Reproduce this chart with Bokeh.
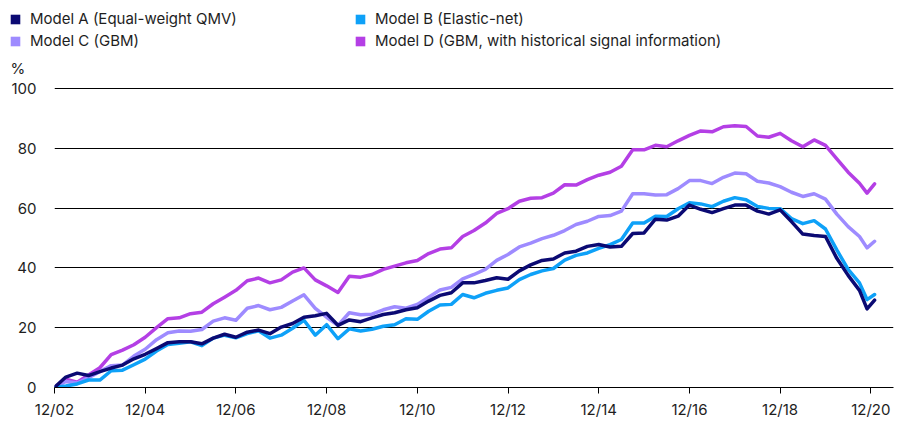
from bokeh.plotting import figure
from bokeh.layouts import column, row
from bokeh.models import Legend, LegendItem, FixedTicker, Label, Range1d, ColumnDataSource
from bokeh.embed import file_html
from bokeh.resources import INLINE

# ---- data (quarterly readings, cumulative %, from Dec 2002) ----
dates = (["2002-12"]
         + [f"{y}-{m:02d}" for y in range(2003, 2021) for m in (3, 6, 9, 12)][:-1]
         + ["2020-11", "2021-01"])

model_a = [0, 3.5, 4.8, 4, 5.3, 6.5, 7.5, 9.6, 11.1, 13, 15, 15.3, 15.3, 14.6, 16.5, 17.8,
           16.8, 18.5, 19.2, 18, 20.2, 21.4, 23.5, 24, 24.8, 20.8, 22.6, 22, 23.3, 24.4, 25, 26,
           26.7, 28.9, 30.8, 31.7, 35, 35, 35.8, 36.7, 36.2, 39, 41, 42.5, 43, 45, 45.6, 47.2,
           47.8, 47, 47.2, 51.5, 51.7, 56.3, 56, 57.3, 61, 59.6, 58.5, 59.8, 61, 61, 59, 58,
           59.4, 55.5, 51.3, 50.8, 50.5, 43.2, 37.5, 32.5, 26.3, 29.2]
model_b = [0, 0.5, 1.2, 2.5, 2.5, 5.6, 5.8, 7.6, 9.5, 12.2, 14.4, 14.8, 15.3, 14, 16.5, 17.5,
           16.6, 18, 19, 16.5, 17.5, 19.8, 22.5, 17.5, 21, 16.3, 19.6, 18.9, 19.5, 20.5, 21, 23,
           22.8, 25.5, 27.6, 27.8, 31.1, 30, 31.5, 32.5, 33.3, 36.1, 37.8, 39, 39.8, 42.6, 44.2, 45,
           46.5, 47.8, 49.5, 55, 55, 57.3, 57.2, 59.8, 61.8, 61.4, 60.5, 62.3, 63.5, 62.8, 60.5, 59.9,
           59.8, 56.5, 54.8, 55.8, 53, 46, 39.5, 35, 29.4, 31.1]
model_c = [0, 2, 1.5, 3.3, 5.3, 7.3, 7.5, 10.5, 12.8, 16, 18.3, 18.9, 18.8, 19.4, 22.2, 23.3,
           22.5, 26.5, 27.4, 26, 26.8, 28.9, 31, 26.5, 23.5, 20.8, 25, 24.3, 24.5, 26, 27, 26.5,
           27.8, 30.2, 32.6, 33.5, 36.3, 37.8, 39.5, 42.5, 44.5, 47, 48.3, 49.8, 50.9, 52.5, 54.5, 55.6,
           57.2, 57.5, 59, 64.8, 64.8, 64.4, 64.5, 66.5, 69.2, 69.2, 68.2, 70.3, 71.7, 71.5, 69, 68.4,
           67.2, 65.3, 63.9, 64.8, 63, 58, 53.8, 50.5, 46.7, 48.9]
model_d = [0, 2.8, 1.8, 4.2, 6.6, 11, 12.5, 14.3, 16.8, 20, 23, 23.3, 24.7, 25.2, 28, 30.2,
           32.5, 35.7, 36.6, 35, 36, 38.6, 40, 36, 34, 31.8, 37.2, 36.9, 37.8, 39.5, 40.6, 41.7,
           42.5, 44.8, 46.3, 46.7, 50.5, 52.5, 55, 58.2, 59.8, 62.3, 63.3, 63.5, 65, 67.8, 67.7, 69.5,
           71, 72, 74, 79.5, 79.5, 81, 80.5, 82.5, 84.3, 85.8, 85.5, 87.2, 87.5, 87.3, 84.1, 83.7,
           85, 82.5, 80.5, 82.8, 81, 76.5, 72, 68.3, 65, 68.1]

names = ["Model A (Equal-weight QMV)", "Model B (Elastic-net)",
         "Model C (GBM)", "Model D (GBM, with historical signal information)"]
colors = ["#0b0a73", "#0ea1f8", "#9e8bff", "#b43fe5"]

tick_labels = ["12/02", "12/04", "12/06", "12/08", "12/10",
               "12/12", "12/14", "12/16", "12/18", "12/20"]
y_ticks = [0, 20, 40, 60, 80, 100]
unit_label = "%"

# month index since Dec 2002
x = [(int(d[:4]) - 2002) * 12 + int(d[5:7]) - 12 for d in dates]
x_ticks = [24 * i for i in range(len(tick_labels))]

FONT = "Inter"
TXT = "#1e1e1e"
FS = "15px"

# ---------------- header (legend + unit) ----------------
HEAD_H = 80
head = figure(width=902, height=HEAD_H, x_range=Range1d(0, 902), y_range=Range1d(0, HEAD_H),
              output_backend="svg", toolbar_location=None,
              x_axis_location=None, y_axis_location=None,
              min_border_left=0, min_border_right=0, min_border_top=0, min_border_bottom=0)
head.outline_line_color = None
head.grid.visible = False

nan = float("nan")
sw = [head.quad(left=[nan], right=[nan], top=[nan], bottom=[nan], fill_color=c, line_color=None)
      for c in colors]

def mk_legend(idx, loc):
    return Legend(items=[LegendItem(label=names[i], renderers=[sw[i]]) for i in idx],
                  location=loc, orientation="vertical",
                  glyph_width=12, glyph_height=12, label_height=12, spacing=3,
                  label_standoff=9, padding=0, margin=0,
                  border_line_color=None, background_fill_alpha=0,
                  label_text_font=FONT, label_text_font_size=FS, label_text_color=TXT)

head.add_layout(mk_legend([0, 2], (9, 30)))
head.add_layout(mk_legend([1, 3], (354, 30)))
head.add_layout(Label(x=10, y=12, x_units="screen", y_units="screen", text=unit_label,
                      text_font=FONT, text_font_size=FS, text_color=TXT,
                      text_baseline="middle", text_align="left"))

# ---------------- chart ----------------
p = figure(width=902, height=421 - HEAD_H, x_range=Range1d(0, 222), y_range=Range1d(0, 101),
           output_backend="svg", toolbar_location=None,
           min_border_left=54, min_border_right=9, min_border_top=5, min_border_bottom=33)
p.outline_line_color = None
p.background_fill_color = "white"

src = ColumnDataSource(dict(x=x, a=model_a, b=model_b, c=model_c, d=model_d))
for key, col in [("d", colors[3]), ("c", colors[2]), ("b", colors[1]), ("a", colors[0])]:
    p.line("x", key, source=src, line_color=col, line_width=3.5,
           line_join="round", line_cap="round")

p.xgrid.visible = False
p.ygrid.ticker = FixedTicker(ticks=y_ticks)
p.ygrid.grid_line_color = "black"
p.ygrid.grid_line_width = 1

xa = p.xaxis[0]
xa.ticker = FixedTicker(ticks=x_ticks)
xa.major_label_overrides = {t: l for t, l in zip(x_ticks, tick_labels)}
xa.axis_line_color = "black"
xa.major_tick_line_color = "black"
xa.major_tick_in = 0
xa.major_tick_out = 6
xa.minor_tick_line_color = None
xa.major_label_standoff = 6
xa.major_label_text_font = FONT
xa.major_label_text_font_size = FS
xa.major_label_text_color = TXT

ya = p.yaxis[0]
ya.ticker = FixedTicker(ticks=y_ticks)
ya.axis_line_color = None
ya.major_tick_line_color = None
ya.minor_tick_line_color = None
ya.major_tick_in = 0
ya.major_tick_out = 0
ya.major_label_standoff = 18
ya.major_label_text_font = FONT
ya.major_label_text_font_size = FS
ya.major_label_text_color = TXT

layout = column(row(head), p, spacing=0)
open("out.html", "w").write(file_html(layout, INLINE))
